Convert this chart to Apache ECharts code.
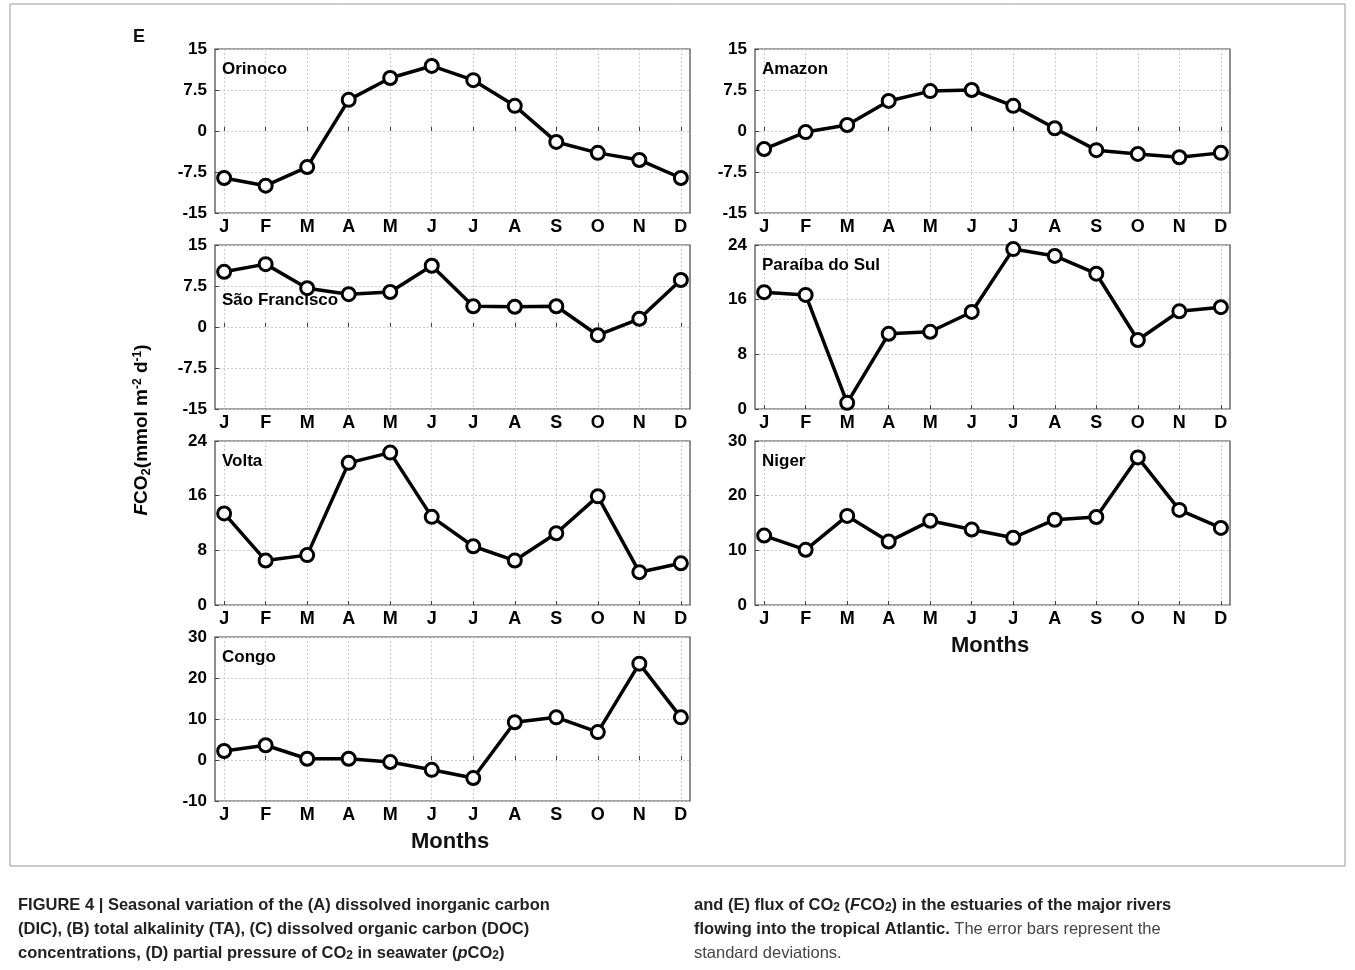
<!DOCTYPE html>
<html><head><meta charset="utf-8">
<script src="https://cdn.jsdelivr.net/npm/echarts@6/dist/echarts.min.js"></script>
<style>html,body{margin:0;background:#fff}#c{width:1355px;height:970px}</style>
</head><body><div id="c"></div>
<script>
const months = ['J','F','M','A','M','J','J','A','S','O','N','D'];
const orinoco = [-8.6,-10,-6.6,5.7,9.7,11.9,9.3,4.6,-2,-4,-5.3,-8.6];
const amazon = [-3.3,-0.2,1.1,5.5,7.3,7.5,4.6,0.5,-3.5,-4.2,-4.8,-4];
const saoFrancisco = [10.1,11.5,7.1,6,6.4,11.2,3.8,3.7,3.8,-1.5,1.5,8.6];
const paraiba = [17.1,16.7,0.9,11,11.3,14.2,23.4,22.4,19.8,10.1,14.3,14.9];
const volta = [13.4,6.5,7.3,20.8,22.3,12.9,8.6,6.5,10.5,15.9,4.8,6.1];
const niger = [12.7,10.1,16.3,11.6,15.4,13.8,12.3,15.6,16.1,27,17.4,14.1];
const congo = [2.2,3.6,0.3,0.3,-0.5,-2.4,-4.4,9.2,10.4,6.8,23.5,10.4];

// name, data, yMin, yMax, interval, left, top, labelOffset
const panels = [
  ['Orinoco', orinoco, -15, 15, 7.5, 215, 49, 12],
  ['Amazon', amazon, -15, 15, 7.5, 755, 49, 12],
  ['São Francisco', saoFrancisco, -15, 15, 7.5, 215, 245, 47],
  ['Paraíba do Sul', paraiba, 0, 24, 8, 755, 245, 12],
  ['Volta', volta, 0, 24, 8, 215, 441, 12],
  ['Niger', niger, 0, 30, 10, 755, 441, 12],
  ['Congo', congo, -10, 30, 10, 215, 637, 12]
];
const W = 475, H = 164;
const font = 'Liberation Sans, Arial, sans-serif';
const ticks = [1,2,3,4,5,6,7,8,9,10,11,12];

const grid = [], xAxis = [], yAxis = [], series = [], graphic = [];
panels.forEach((p, i) => {
  const [name, data, ymin, ymax, iv, left, top, lo] = p;
  grid.push({left, top, width: W, height: H, show: true, borderColor: '#444', borderWidth: 1.2});
  xAxis.push({type: 'value', gridIndex: i, min: 0.78, max: 12.22,
    axisLine: {show: false},
    axisTick: {inside: true, length: 4, customValues: ticks, lineStyle: {color: '#444'}},
    axisLabel: {customValues: ticks, formatter: v => months[Math.round(v) - 1] || '',
      fontFamily: font, fontWeight: 'bold', fontSize: 18, color: '#000', margin: 5},
    splitLine: {show: true, lineStyle: {color: '#ccc', type: [2, 2]}}});
  yAxis.push({type: 'value', gridIndex: i, min: ymin, max: ymax, interval: iv,
    axisLine: {show: false},
    axisTick: {show: true, inside: true, length: 4, lineStyle: {color: '#444'}},
    axisLabel: {fontFamily: font, fontWeight: 'bold', fontSize: 17, color: '#000', margin: 8},
    splitLine: {show: true, lineStyle: {color: '#ccc', type: [2, 2]}}});
  series.push({type: 'line', xAxisIndex: i, yAxisIndex: i,
    data: data.map((v, k) => [k + 1, v]),
    symbol: 'circle', symbolSize: 13, showSymbol: true,
    lineStyle: {color: '#000', width: 3.5},
    itemStyle: {color: '#fff', borderColor: '#000', borderWidth: 3}});
  graphic.push({type: 'text', left: left + 7, top: top + lo,
    style: {text: name, font: 'bold 17px ' + font, fill: '#000'}, z: 10});
});

const T = (text, x, y, fs) => ({type: 'text', left: x, top: y,
  style: {text, font: fs + ' ' + font, fill: '#111'}});

graphic.push(
  {type: 'rect', shape: {x: 10, y: 4, width: 1335, height: 862}, style: {fill: 'none', stroke: '#999', lineWidth: 1}},
  T('E', 133, 28, 'bold 18px'),
  T('Months', 411, 831, 'bold 22px'),
  T('Months', 951, 635, 'bold 22px'),
  {type: 'text', x: 142, y: 430, rotation: Math.PI / 2,
    style: {text: '{i|F}{b|CO}{s|2}{b|(mmol m}{u|-2}{b| d}{u|-1}{b|)}', align: 'center', verticalAlign: 'middle',
      rich: {i: {font: 'italic bold 19px ' + font}, b: {font: 'bold 19px ' + font},
        s: {font: 'bold 13px ' + font, padding: [9, 0, 0, 0]}, u: {font: 'bold 12px ' + font, padding: [0, 0, 9, 0]}}}},
  {type: 'text', left: 18, top: 893, style: {
    text: '{b|FIGURE 4 | Seasonal variation of the (A) dissolved inorganic carbon}\n{b|(DIC), (B) total alkalinity (TA), (C) dissolved organic carbon (DOC)}\n{b|concentrations, (D) partial pressure of CO}{s|2}{b| in seawater (}{bi|p}{b|CO}{s|2}{b|)}',
    lineHeight: 24, rich: {b: {font: 'bold 16.5px ' + font, fill: '#222', lineHeight: 24},
      bi: {font: 'italic bold 16.5px ' + font, fill: '#222'}, s: {font: 'bold 12px ' + font, fill: '#222', padding: [6, 0, 0, 0]}}}},
  {type: 'text', left: 694, top: 893, style: {
    text: '{b|and (E) flux of CO}{s|2}{b| (}{bi|F}{b|CO}{s|2}{b|) in the estuaries of the major rivers}\n{b|flowing into the tropical Atlantic.}{n| The error bars represent the}\n{n|standard deviations.}',
    lineHeight: 24, rich: {b: {font: 'bold 16.5px ' + font, fill: '#222', lineHeight: 24},
      bi: {font: 'italic bold 16.5px ' + font, fill: '#222'}, n: {font: '16.5px ' + font, fill: '#444'},
      s: {font: 'bold 12px ' + font, fill: '#222', padding: [6, 0, 0, 0]}}}}
);

const chart = echarts.init(document.getElementById('c'));
chart.setOption({animation: false, backgroundColor: '#fff', grid, xAxis, yAxis, series, graphic});
</script></body></html>
